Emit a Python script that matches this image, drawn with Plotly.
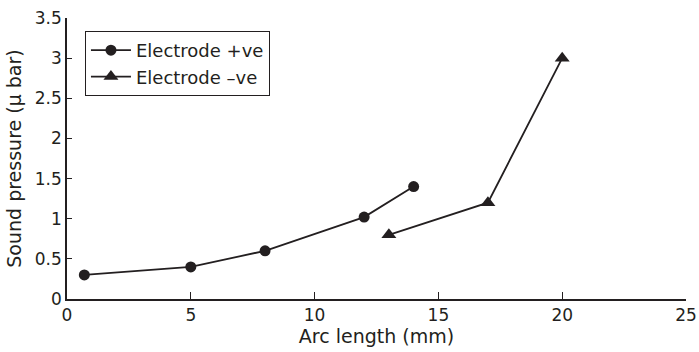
import plotly.graph_objects as go

pos_x = [0.7, 5, 8, 12, 14]
pos_y = [0.3, 0.4, 0.6, 1.02, 1.4]
neg_x = [13, 17, 20]
neg_y = [0.8, 1.2, 3.0]

x_ticks = [0, 5, 10, 15, 20, 25]
y_ticks = [0, 0.5, 1, 1.5, 2, 2.5, 3, 3.5]
y_labels = ["0", "0.5", "1", "1.5", "2", "2.5", "3", "3.5"]

ink = "#231f20"
fam = "DejaVu Sans, Liberation Sans, sans-serif"
font = dict(family=fam, size=18, color=ink)
titlefont = dict(family=fam, size=19, color=ink)
tickfont = dict(family=fam, size=17, color=ink)

fig = go.Figure()
fig.add_trace(go.Scatter(x=pos_x, y=pos_y, mode="lines+markers", name="Electrode +ve",
                         line=dict(color=ink, width=1.8),
                         marker=dict(symbol="circle", size=11, color=ink)))
fig.add_trace(go.Scatter(x=neg_x, y=neg_y, mode="lines+markers", name="Electrode \u2013ve",
                         line=dict(color=ink, width=1.8),
                         marker=dict(symbol="triangle-up", size=13, color=ink)))

fig.update_layout(
    width=699, height=352,
    margin=dict(l=67, r=13, t=18, b=53),
    paper_bgcolor="white", plot_bgcolor="white",
    font=font,
    showlegend=True,
    legend=dict(x=0.029, y=0.954, xanchor="left", yanchor="top",
                bordercolor=ink, borderwidth=1, bgcolor="white",
                font=font, tracegroupgap=0, itemwidth=40),
    xaxis=dict(range=[0, 25], tickvals=x_ticks, ticks="inside", ticklen=7,
               tickcolor=ink, showline=True, linecolor=ink, linewidth=1.5,
               showgrid=False, zeroline=False, automargin=False, tickfont=tickfont,
               ticklabeloverflow="allow",
               title=dict(text="Arc length (mm)", standoff=4, font=titlefont)),
    yaxis=dict(range=[0, 3.5], tickvals=y_ticks, ticktext=y_labels, ticks="inside", ticklen=5,
               tickcolor=ink, showline=True, linecolor=ink, linewidth=1.5,
               showgrid=False, zeroline=False, automargin=False, tickfont=tickfont,
               ticklabeloverflow="allow",
               title=dict(text="Sound pressure (\u00b5 bar)", standoff=8, font=titlefont)),
)

fig.write_html("out.html", config={"displayModeBar": False},
               post_script="document.body.style.margin='0';document.body.style.overflow='hidden';")
